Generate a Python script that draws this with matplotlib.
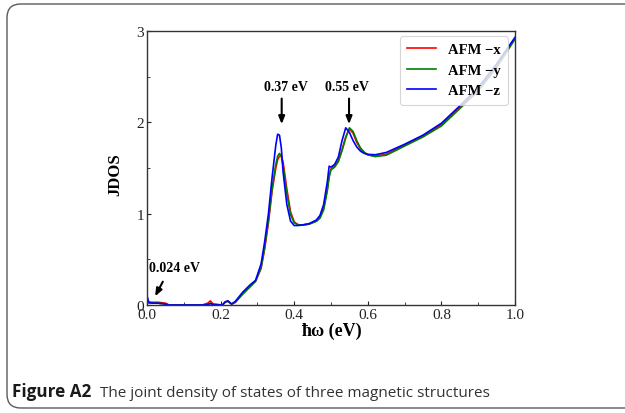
import matplotlib
matplotlib.use("Agg")
import matplotlib.pyplot as plt
from matplotlib.patches import FancyBboxPatch
from matplotlib.ticker import MultipleLocator

# ---------------- data ----------------
energy = [0.0, 0.005, 0.015, 0.03, 0.05, 0.06, 0.10, 0.15, 0.165, 0.172, 0.18,
          0.205, 0.213, 0.22, 0.23, 0.24, 0.26, 0.28, 0.295, 0.31, 0.32, 0.33,
          0.34, 0.35, 0.355, 0.36, 0.365, 0.37, 0.38, 0.39, 0.40, 0.41, 0.42,
          0.44, 0.46, 0.47, 0.48, 0.49, 0.495, 0.50, 0.51, 0.52, 0.53, 0.54,
          0.55, 0.56, 0.57, 0.58, 0.59, 0.60, 0.62, 0.65, 0.70, 0.75, 0.80,
          0.85, 0.90, 0.95, 1.0]

jdos_x = [0.05, 0.03, 0.03, 0.03, 0.02, 0.0, 0.0, 0.0, 0.02, 0.045, 0.01,
          0.0, 0.035, 0.04, 0.01, 0.03, 0.12, 0.2, 0.26, 0.4, 0.62, 0.9,
          1.25, 1.5, 1.59, 1.63, 1.63, 1.56, 1.27, 1.02, 0.91, 0.88, 0.875,
          0.885, 0.92, 0.96, 1.06, 1.27, 1.42, 1.49, 1.52, 1.58, 1.7, 1.84,
          1.93, 1.88, 1.78, 1.71, 1.67, 1.645, 1.63, 1.65, 1.75, 1.85, 1.975,
          2.165, 2.36, 2.62, 2.92]

jdos_y = [0.05, 0.02, 0.02, 0.02, 0.01, 0.0, 0.0, 0.0, 0.005, 0.02, 0.005,
          0.0, 0.035, 0.04, 0.01, 0.03, 0.12, 0.2, 0.26, 0.41, 0.64, 0.93,
          1.28, 1.54, 1.63, 1.66, 1.63, 1.52, 1.22, 0.99, 0.9, 0.88, 0.875,
          0.885, 0.915, 0.95, 1.04, 1.25, 1.4, 1.48, 1.51, 1.57, 1.69, 1.83,
          1.94, 1.9, 1.8, 1.72, 1.675, 1.645, 1.625, 1.64, 1.74, 1.84, 1.96,
          2.15, 2.345, 2.6, 2.91]

jdos_z = [0.1, 0.03, 0.02, 0.02, 0.01, 0.0, 0.0, 0.0, 0.005, 0.015, 0.005,
          0.0, 0.035, 0.045, 0.01, 0.04, 0.14, 0.22, 0.27, 0.45, 0.7, 1.0,
          1.4, 1.75, 1.87, 1.86, 1.72, 1.45, 1.1, 0.92, 0.87, 0.87, 0.875,
          0.89, 0.93, 0.98, 1.1, 1.35, 1.52, 1.51, 1.54, 1.62, 1.8, 1.94,
          1.89, 1.8, 1.73, 1.685, 1.66, 1.65, 1.645, 1.67, 1.76, 1.86, 1.99,
          2.18, 2.38, 2.64, 2.93]

series_labels = ["AFM \u2212x", "AFM \u2212y", "AFM \u2212z"]
series_colors = ["#ff0000", "#008000", "#0000ff"]

x_ticks = [0.0, 0.2, 0.4, 0.6, 0.8, 1.0]
x_ticklabels = ["0.0", "0.2", "0.4", "0.6", "0.8", "1.0"]
y_ticks = [0, 1, 2, 3]
y_ticklabels = ["0", "1", "2", "3"]

peak_labels = ["0.37 eV", "0.55 eV", "0.024 eV"]
peak_energies = [0.366, 0.549, 0.022]

caption_bold = "Figure A2"
caption_text = "The joint density of states of three magnetic structures"

# ---------------- figure ----------------
W, H = 625, 414
fig = plt.figure(figsize=(W / 100, H / 100), dpi=100)

# rounded frame around the figure
frame = FancyBboxPatch((7 / W, 5 / H), 660 / W, 404 / H,
                       boxstyle="round,pad=0,rounding_size=0.022",
                       transform=fig.transFigure, fill=False,
                       edgecolor="#5a5a5a", linewidth=1.0,
                       mutation_aspect=W / H)
fig.add_artist(frame)

ax = fig.add_axes([147 / W, 1 - 306 / H, 368 / W, 274 / H])

serif = "Liberation Serif"
for yv, lab, col in zip([jdos_x, jdos_y, jdos_z], series_labels, series_colors):
    ax.plot(energy, yv, color=col, lw=1.2, label=lab)

ax.set_xlim(0, 1.0)
ax.set_ylim(0, 3)
ax.set_xticks(x_ticks)
ax.set_xticklabels(x_ticklabels, family=serif, fontsize=11)
ax.set_yticks(y_ticks)
ax.set_yticklabels(y_ticklabels, family=serif, fontsize=11)
ax.xaxis.set_minor_locator(MultipleLocator(0.1))
ax.yaxis.set_minor_locator(MultipleLocator(0.5))
ax.tick_params(which="major", direction="in", length=3, width=0.8, pad=2,
               colors="#222222")
ax.tick_params(which="minor", direction="in", length=2, width=0.6,
               colors="#222222")
for s in ax.spines.values():
    s.set_color("#333333")
    s.set_linewidth(1.0)

ax.set_xlabel("\u0127\u03c9 (eV)", family=serif, fontsize=13, fontweight="bold",
              labelpad=1)
ax.set_ylabel("JDOS", family=serif, fontsize=12, fontweight="bold")
ax.yaxis.set_label_coords(-0.065, 0.478)

leg = ax.legend(loc="upper right", bbox_to_anchor=(0.981, 0.982),
                borderaxespad=0.0,
                prop={"family": serif, "weight": "bold", "size": 10.5},
                frameon=True, handlelength=2.0, handletextpad=0.8,
                labelspacing=0.5, borderpad=0.5, fancybox=True)
leg.get_frame().set_edgecolor("#cccccc")
leg.get_frame().set_linewidth(0.8)

arrow = dict(arrowstyle="-|>,head_width=0.18,head_length=0.45",
             color="black", lw=1.5, shrinkA=0, shrinkB=0)
ax.annotate("", xy=(peak_energies[0], 1.98), xytext=(peak_energies[0], 2.26),
            arrowprops=arrow)
ax.text(0.378, 2.39, peak_labels[0], family=serif, fontsize=10,
        fontweight="bold", ha="center", va="center")
ax.annotate("", xy=(peak_energies[1], 1.98), xytext=(peak_energies[1], 2.26),
            arrowprops=arrow)
ax.text(0.543, 2.39, peak_labels[1], family=serif, fontsize=10,
        fontweight="bold", ha="center", va="center")
ax.annotate("", xy=(peak_energies[2], 0.095), xytext=(0.043, 0.255),
            arrowprops=arrow)
ax.text(0.075, 0.413, peak_labels[2], family=serif, fontsize=10,
        fontweight="bold", ha="center", va="center")

# caption
cap_font = "Open Sans"
fig.text(12 / W, 1 - 397 / H, caption_bold, family=cap_font, fontsize=12.3,
         fontweight="bold", ha="left", va="baseline", color="#1a1a1a")
fig.text(100 / W, 1 - 397 / H, caption_text, family=cap_font, fontsize=11.0,
         ha="left", va="baseline", color="#333333")

fig.savefig("out.png", dpi=100)
